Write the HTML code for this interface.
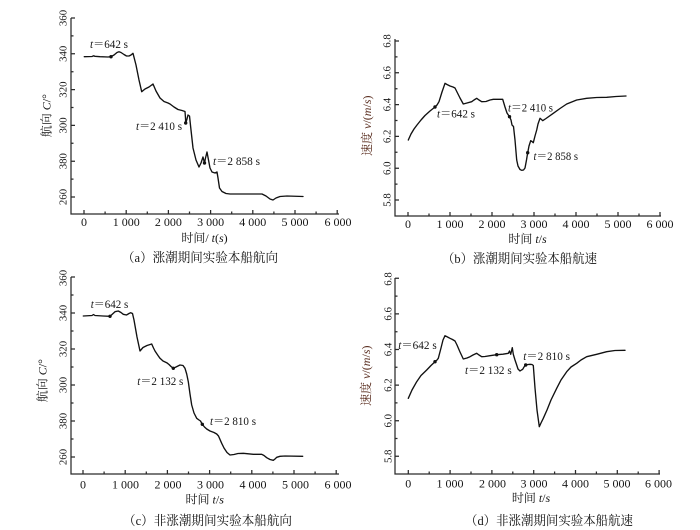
<!DOCTYPE html>
<html><head><meta charset="utf-8"><style>
html,body{margin:0;padding:0;background:#fff;}
svg{display:block;}
text{font-family:"Liberation Serif","Noto Serif CJK SC",serif;fill:#151515;}
.tk{font-size:12px;}
.yt{font-size:10.8px;}
.an{font-size:12px;}
.cj{font-family:"Liberation Serif","Noto Serif CJK SC",serif;font-size:12px;}
.ti{font-family:"Liberation Serif","Noto Serif CJK SC",serif;font-size:13px;}
.ax{stroke:#2a2a2a;stroke-width:1.25;fill:none;}
.cv{stroke:#111;stroke-width:1.35;fill:none;stroke-linejoin:round;stroke-linecap:round;}
</style></head><body>
<svg width="700" height="530" viewBox="0 0 700 530" xmlns="http://www.w3.org/2000/svg">
<rect width="700" height="530" fill="#fff"/>

<!-- ===== Panel (a) ===== -->
<path class="ax" d="M71,18 V214 H339"/>
<path class="ax" d="M71,18h4M71,53.8h4M71,89.6h4M71,125.4h4M71,161.2h4M71,197h4M71,35.9h2.5M71,71.7h2.5M71,107.5h2.5M71,143.3h2.5M71,179.1h2.5"/>
<path class="ax" d="M84,214v-4M126.2,214v-4M168.4,214v-4M210.6,214v-4M252.8,214v-4M295,214v-4M337.2,214v-4M105.1,214v-2.5M147.3,214v-2.5M189.5,214v-2.5M231.7,214v-2.5M273.9,214v-2.5M316.1,214v-2.5"/>
<g class="yt" text-anchor="middle">
<text transform="translate(66.5,18) rotate(-90)">360</text>
<text transform="translate(66.5,53.8) rotate(-90)">340</text>
<text transform="translate(66.5,89.6) rotate(-90)">320</text>
<text transform="translate(66.5,125.4) rotate(-90)">300</text>
<text transform="translate(66.5,161.2) rotate(-90)">380</text>
<text transform="translate(66.5,197) rotate(-90)">260</text>
</g>
<g class="tk" text-anchor="middle">
<text x="84" y="226">0</text><text x="126.2" y="226">1 000</text><text x="168.4" y="226">2 000</text><text x="210.6" y="226">3 000</text><text x="252.8" y="226">4 000</text><text x="295" y="226">5 000</text><text x="338" y="226">6 000</text>
</g>
<text class="cj" transform="translate(50.5,115.7) rotate(-90)" text-anchor="middle" font-size="12.5">航向 <tspan font-style="italic">C</tspan>/°</text>
<text class="cj" x="204.5" y="242" text-anchor="middle">时间/ <tspan font-style="italic">t</tspan>(<tspan font-style="italic">s</tspan>)</text>
<text class="ti" x="200" y="262" text-anchor="middle" textLength="156" lengthAdjust="spacingAndGlyphs">（a）涨潮期间实验本船航向</text>
<polyline class="cv" points="84.3,56.7 92,56.5 93.5,55.8 95,56.3 100,56.7 108,57 111,56.7 114,55 117,52.5 119,51.8 121,52.5 124,54.5 126.5,56 129,56 131,55 133,53.3 136,65 139,80 141.7,91.7 145,89 149,87 153,84 156,91 160,98 164,101.5 168,103 170,104 174,107 178,109.5 182,110.5 185,111.5 185.5,118 185.7,123 187,119 188,115 189.5,116 191,130 193,148 196,160 199,167 201,163 203,157 204.5,163 205.5,158 207,152 208.5,160 210,168 212,172 215,173 217,172 218,178 219.5,188 222,191.5 226,193.5 230,194 253,194 262,194 266,196 270,199 273,200 276,198 280,196.5 287,196 303,196.5"/>
<circle cx="111" cy="56.7" r="1.7" fill="#111"/><circle cx="185.7" cy="123" r="1.7" fill="#111"/><circle cx="204.5" cy="163" r="1.7" fill="#111"/>
<g class="an">
<text x="90" y="48" textLength="38" lengthAdjust="spacingAndGlyphs"><tspan font-style="italic">t</tspan>＝642 s</text>
<text x="136" y="130" textLength="46" lengthAdjust="spacingAndGlyphs"><tspan font-style="italic">t</tspan>＝2 410 s</text>
<text x="213" y="165" textLength="47" lengthAdjust="spacingAndGlyphs"><tspan font-style="italic">t</tspan>＝2 858 s</text>
</g>

<!-- ===== Panel (b) ===== -->
<path class="ax" d="M395,39 V216 H661"/>
<path class="ax" d="M395,41h4M395,72.8h4M395,104.6h4M395,136.4h4M395,168.2h4M395,200h4M395,56.9h2.5M395,88.7h2.5M395,120.5h2.5M395,152.3h2.5M395,184.1h2.5"/>
<path class="ax" d="M408,216v-4M450,216v-4M492,216v-4M534,216v-4M576,216v-4M618,216v-4M660,216v-4M429,216v-2.5M471,216v-2.5M513,216v-2.5M555,216v-2.5M597,216v-2.5M639,216v-2.5"/>
<g class="yt" text-anchor="middle">
<text transform="translate(390.5,41) rotate(-90)">6.8</text>
<text transform="translate(390.5,72.8) rotate(-90)">6.6</text>
<text transform="translate(390.5,104.6) rotate(-90)">6.4</text>
<text transform="translate(390.5,136.4) rotate(-90)">6.2</text>
<text transform="translate(390.5,168.2) rotate(-90)">6.0</text>
<text transform="translate(390.5,200) rotate(-90)">5.8</text>
</g>
<g class="tk" text-anchor="middle">
<text x="408" y="228">0</text><text x="450" y="228">1 000</text><text x="492" y="228">2 000</text><text x="534" y="228">3 000</text><text x="576" y="228">4 000</text><text x="618" y="228">5 000</text><text x="660" y="228">6 000</text>
</g>
<text class="cj" transform="translate(371,125.7) rotate(-90)" text-anchor="middle" style="fill:#5a2e20" font-size="12">速度 <tspan font-style="italic" style="fill:#5a2e20">v</tspan>/(<tspan font-style="italic" style="fill:#5a2e20">m</tspan>/<tspan font-style="italic" style="fill:#5a2e20">s</tspan>)</text>
<text class="cj" x="527.5" y="243" text-anchor="middle">时间 <tspan font-style="italic">t</tspan>/<tspan font-style="italic">s</tspan></text>
<text class="ti" x="519.5" y="263" text-anchor="middle" textLength="155" lengthAdjust="spacingAndGlyphs">（b）涨潮期间实验本船航速</text>
<polyline class="cv" points="408.3,140 411,134 414,129 417,125 421,120 425,115.5 430,111 435,107 437,105 439,101.7 442,92 445,83.3 447,84.5 450,86 453,87 455,88 457,92 460,98 463.3,104 467,103 471.7,101.7 474,100 476.7,98.3 479,100 481.7,101.7 486,101.5 490,100 493.3,99.3 502.7,99.3 505,107 507,113 509.5,116.7 511,120 512,125 513.5,126.5 515,140 516.7,160 518,166 520,169.5 521.7,170.3 523.5,170 525,168 526.5,160 527.7,152.7 529,146 530.7,140.7 532,141.5 533.3,142.7 535,136 536.7,130 538,124 540,118.3 541.5,119.5 542.7,120.7 546,118.5 553.3,113.3 560,108.5 566.7,104 576.7,100 586.7,98.3 596.7,97.5 606.7,97.3 616,96.5 626,96"/>
<circle cx="435" cy="107" r="1.7" fill="#111"/><circle cx="509.5" cy="116.7" r="1.7" fill="#111"/><circle cx="527.7" cy="152.7" r="1.7" fill="#111"/>
<g class="an">
<text x="437" y="117.5" textLength="38" lengthAdjust="spacingAndGlyphs"><tspan font-style="italic">t</tspan>＝642 s</text>
<text x="508" y="111.5" textLength="45" lengthAdjust="spacingAndGlyphs"><tspan font-style="italic">t</tspan>＝2 410 s</text>
<text x="533.5" y="160" textLength="44.5" lengthAdjust="spacingAndGlyphs"><tspan font-style="italic">t</tspan>＝2 858 s</text>
</g>

<!-- ===== Panel (c) ===== -->
<path class="ax" d="M71,277 V474 H339"/>
<path class="ax" d="M71,277h4M71,313h4M71,349h4M71,385h4M71,421h4M71,457h4M71,295h2.5M71,331h2.5M71,367h2.5M71,403h2.5M71,439h2.5"/>
<path class="ax" d="M83,474v-4M125.2,474v-4M167.4,474v-4M209.6,474v-4M251.8,474v-4M294,474v-4M336.2,474v-4M104.1,474v-2.5M146.3,474v-2.5M188.5,474v-2.5M230.7,474v-2.5M272.9,474v-2.5M315.1,474v-2.5"/>
<g class="yt" text-anchor="middle">
<text transform="translate(66.5,278) rotate(-90)">360</text>
<text transform="translate(66.5,313) rotate(-90)">340</text>
<text transform="translate(66.5,349) rotate(-90)">320</text>
<text transform="translate(66.5,385) rotate(-90)">300</text>
<text transform="translate(66.5,421) rotate(-90)">380</text>
<text transform="translate(66.5,457) rotate(-90)">260</text>
</g>
<g class="tk" text-anchor="middle">
<text x="83" y="488.5">0</text><text x="125.5" y="488.5">1 000</text><text x="168" y="488.5">2 000</text><text x="210.5" y="488.5">3 000</text><text x="253" y="488.5">4 000</text><text x="295.5" y="488.5">5 000</text><text x="338" y="488.5">6 000</text>
</g>
<text class="cj" transform="translate(46.5,380.7) rotate(-90)" text-anchor="middle" font-size="12.5">航向 <tspan font-style="italic">C</tspan>/°</text>
<text class="cj" x="204.7" y="503.5" text-anchor="middle">时间 <tspan font-style="italic">t</tspan>/<tspan font-style="italic">s</tspan></text>
<text class="ti" x="207.5" y="525" text-anchor="middle" textLength="169" lengthAdjust="spacingAndGlyphs">（c）非涨潮期间实验本船航向</text>
<polyline class="cv" points="83.3,316 92,315.5 93.5,314.5 95,315.5 103,316 110,316.3 112,314.5 115,311.7 118.3,311 121,312.5 123.3,314.3 126.5,315 129,313.5 130.7,312.7 132.5,313.5 134,320 137,337 140,351 143,347.5 147,345.5 151.7,344 153.5,348 155,351 158,355.5 160,358.3 163,361 166.7,362.7 169,364.5 171,366.5 173.3,368.3 176,367 180,365 183,365.5 185,368.3 186.7,374 188.3,381.7 190,394 191.7,405 194,413 196.7,418.3 199,420 200.5,421 202.3,424.3 204.5,427 206.7,429 210,431 214,432.5 216.7,434 218.5,436 221.7,443.3 224,448 227,452.5 230,455 234,454.5 238,453.5 243.3,453.3 253.3,454.3 261.7,454.3 264,455.5 266.7,457.7 270,459.5 273.3,460.3 275,459 276.7,457.3 280,456.3 285,456 302.7,456.3"/>
<circle cx="110" cy="316.3" r="1.7" fill="#111"/><circle cx="173.3" cy="368.3" r="1.7" fill="#111"/><circle cx="202.3" cy="424.3" r="1.7" fill="#111"/>
<g class="an">
<text x="90.7" y="308.2" textLength="37.6" lengthAdjust="spacingAndGlyphs"><tspan font-style="italic">t</tspan>＝642 s</text>
<text x="137.3" y="385" textLength="46" lengthAdjust="spacingAndGlyphs"><tspan font-style="italic">t</tspan>＝2 132 s</text>
<text x="210" y="425.2" textLength="46" lengthAdjust="spacingAndGlyphs"><tspan font-style="italic">t</tspan>＝2 810 s</text>
</g>

<!-- ===== Panel (d) ===== -->
<path class="ax" d="M395,278 V474 H660"/>
<path class="ax" d="M395,278.3h4M395,313.9h4M395,349.5h4M395,385.1h4M395,420.7h4M395,456.3h4M395,296.1h2.5M395,331.7h2.5M395,367.3h2.5M395,402.9h2.5M395,438.5h2.5"/>
<path class="ax" d="M408.3,474v-4M450.1,474v-4M491.9,474v-4M533.7,474v-4M575.5,474v-4M617.3,474v-4M659.1,474v-4M429.2,474v-2.5M471,474v-2.5M512.8,474v-2.5M554.6,474v-2.5M596.4,474v-2.5M638.2,474v-2.5"/>
<g class="yt" text-anchor="middle">
<text transform="translate(391.5,279) rotate(-90)">6.8</text>
<text transform="translate(391.5,313.9) rotate(-90)">6.6</text>
<text transform="translate(391.5,349.5) rotate(-90)">6.4</text>
<text transform="translate(391.5,385.1) rotate(-90)">6.2</text>
<text transform="translate(391.5,420.7) rotate(-90)">6.0</text>
<text transform="translate(391.5,456.3) rotate(-90)">5.8</text>
</g>
<g class="tk" text-anchor="middle">
<text x="408.3" y="487.5">0</text><text x="450" y="487.5">1 000</text><text x="492.5" y="487.5">2 000</text><text x="534" y="487.5">3 000</text><text x="575.5" y="487.5">4 000</text><text x="617" y="487.5">5 000</text><text x="658.5" y="487.5">6 000</text>
</g>
<text class="cj" transform="translate(370,375.7) rotate(-90)" text-anchor="middle" style="fill:#5a2e20" font-size="12">速度 <tspan font-style="italic" style="fill:#5a2e20">v</tspan>/(<tspan font-style="italic" style="fill:#5a2e20">m</tspan>/<tspan font-style="italic" style="fill:#5a2e20">s</tspan>)</text>
<text class="cj" x="531" y="502" text-anchor="middle">时间 <tspan font-style="italic">t</tspan>/<tspan font-style="italic">s</tspan></text>
<text class="ti" x="549" y="525" text-anchor="middle" textLength="168" lengthAdjust="spacingAndGlyphs">（d）非涨潮期间实验本船航速</text>
<polyline class="cv" points="408.3,398.3 412,390 416.7,381.7 421,375.5 426.7,370 431,365.5 435,361.7 437,360 438.3,358.3 441,348 443,340 445,335.7 447.5,337 450,338.3 452.5,339.5 455,341 457,345 460,352 463.3,359 467,358 470,356.7 473,355 476.7,353.3 479,355 481.7,356.7 485,356.5 490,355.7 496.7,354.7 503,354.2 508.3,353.3 509.5,351 510.7,354.3 511.5,351 512.3,347.7 513.3,354.3 515,360 516.7,365 518,369 520,371 521.5,370 522.7,369.3 524,367 525.7,365 528,364.5 530,364.3 532,364.5 533.3,365.5 535,388 537,410 539.3,426.7 541,423 543.3,418.3 547,410 551,400 556.7,388.3 561,380 566.7,371.7 571,367 576.7,363.3 581,360 586.7,356.7 596.7,354.3 606.7,351.7 615,350.5 625,350.3"/>
<circle cx="435" cy="361.7" r="1.7" fill="#111"/><circle cx="496.7" cy="354.7" r="1.7" fill="#111"/><circle cx="525.7" cy="365" r="1.7" fill="#111"/>
<g class="an">
<text x="398.3" y="349.2" textLength="38.4" lengthAdjust="spacingAndGlyphs"><tspan font-style="italic">t</tspan>＝642 s</text>
<text x="465" y="374.2" textLength="46.7" lengthAdjust="spacingAndGlyphs"><tspan font-style="italic">t</tspan>＝2 132 s</text>
<text x="523.3" y="360" textLength="46.7" lengthAdjust="spacingAndGlyphs"><tspan font-style="italic">t</tspan>＝2 810 s</text>
</g>
</svg>
</body></html>
